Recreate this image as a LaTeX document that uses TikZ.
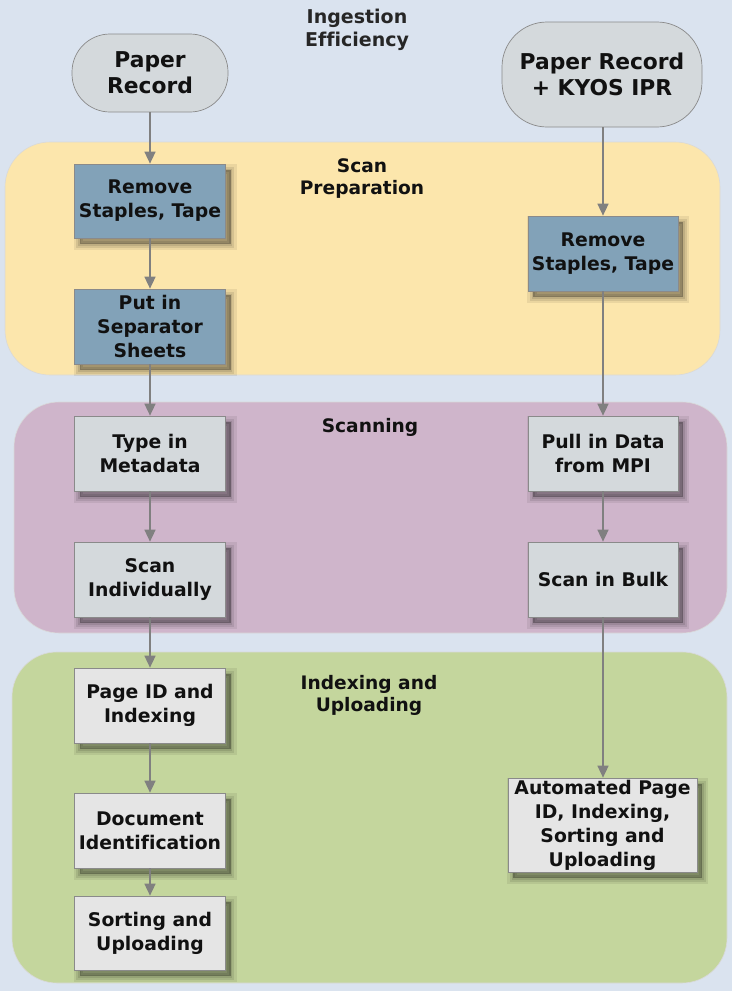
\documentclass[tikz,border=0pt]{standalone}
\usepackage{fontspec}
\setmainfont[Ligatures=NoCommon]{DejaVu Sans}
\usetikzlibrary{arrows.meta,shadows}
\definecolor{bg}{HTML}{DAE3EF}
\definecolor{laneA}{HTML}{FCE6AC}
\definecolor{laneB}{HTML}{CFB5CB}
\definecolor{laneC}{HTML}{C4D69D}
\definecolor{blueBox}{HTML}{82A2B8}
\definecolor{grayBox}{HTML}{D4D9DC}
\definecolor{lightBox}{HTML}{E5E5E5}
\definecolor{edgeGray}{HTML}{8A8A8A}
\definecolor{arrowGray}{HTML}{808080}
\definecolor{txt}{HTML}{111111}
\tikzset{
  lane/.style={rounded corners=45pt, draw=black!15, line width=0.6pt},
  lanetitle/.style={font=\bfseries\fontsize{18.6}{22}\selectfont, text=txt, align=center, inner sep=0pt},
  startnode/.style={draw=edgeGray, line width=0.7pt, fill=grayBox, rounded corners=38pt, align=center,
     font=\bfseries\fontsize{21.8}{26}\selectfont, text=txt, inner sep=0pt},
  softshadow/.style={
     general shadow={draw=black, fill=none, draw opacity=0.07, line width=12pt, rounded corners=3pt, shadow xshift=5pt, shadow yshift=-6pt},
     general shadow={draw=black, fill=none, draw opacity=0.09, line width=7pt, rounded corners=2pt, shadow xshift=5pt, shadow yshift=-6pt},
     general shadow={draw=black, fill=none, draw opacity=0.10, line width=3pt, shadow xshift=5pt, shadow yshift=-6pt},
     general shadow={fill=black, fill opacity=0.30, draw=none, shadow xshift=5pt, shadow yshift=-6pt}},
  box/.style={draw=edgeGray, line width=0.7pt, align=center, inner sep=0pt,
     font=\bfseries\fontsize{18.8}{24}\selectfont, text=txt,
     minimum width=151pt, minimum height=75pt, softshadow},
  bluebox/.style={box, fill=blueBox},
  graybox/.style={box, fill=grayBox},
  lightbox/.style={box, fill=lightBox},
  flow/.style={draw=arrowGray, line width=1.5pt, -{Triangle[width=11pt,length=12pt]}}
}
\begin{document}
\begin{tikzpicture}[x=1pt,y=-1pt]
\fill[bg] (0,0) rectangle (732,991);
\useasboundingbox (0,0) rectangle (732,991);

% lanes
\draw[lane, fill=laneA] (5,142) rectangle (720,375);
\draw[lane, fill=laneB] (14,402) rectangle (727,633);
\draw[lane, fill=laneC] (12,652) rectangle (727,983);

% titles
\node[lanetitle, font=\bfseries\fontsize{19}{23}\selectfont, text=black!85] (title) at (357,30) {Ingestion\\Efficiency};
\node[lanetitle] (t1) at (362,179) {Scan\\Preparation};
\node[lanetitle] (t2) at (370,427) {Scanning};
\node[lanetitle] (t3) at (369,695) {Indexing and\\Uploading};

% start nodes
\node[startnode, minimum width=156pt, minimum height=78pt] (pr1) at (150,73) {Paper\\Record};
\node[startnode, minimum width=200pt, minimum height=105pt, rounded corners=45pt] (pr2) at (602,74.5) {Paper Record\\+ KYOS IPR};

% left column
\node[bluebox, minimum height=74pt] (rs1) at (150,201) {Remove\\Staples, Tape};
\node[bluebox] (sep) at (150,326.5) {Put in\\Separator\\Sheets};
\node[graybox] (meta) at (150,453.5) {Type in\\Metadata};
\node[graybox] (scanI) at (150,579.5) {Scan\\Individually};
\node[lightbox] (page) at (150,705.5) {Page ID and\\Indexing};
\node[lightbox] (doc) at (150,830.5) {Document\\Identification};
\node[lightbox, minimum height=74pt] (sort) at (150,933) {Sorting and\\Uploading};

% right column
\node[bluebox, minimum width=150pt] (rs2) at (603,253.5) {Remove\\Staples, Tape};
\node[graybox, minimum width=150pt] (pull) at (603,453.5) {Pull in Data\\from MPI};
\node[graybox, minimum width=150pt] (bulk) at (603,579.5) {Scan in Bulk};
\node[lightbox, minimum width=189pt, minimum height=94pt] (auto) at (602.5,825) {Automated Page\\ID, Indexing,\\Sorting and\\Uploading};

% connectors
\draw[flow] (pr1.south) -- (rs1.north);
\draw[flow] (rs1.south) -- (sep.north);
\draw[flow] (sep.south) -- (meta.north);
\draw[flow] (meta.south) -- (scanI.north);
\draw[flow] (scanI.south) -- (page.north);
\draw[flow] (page.south) -- (doc.north);
\draw[flow] (doc.south) -- (sort.north);

\draw[flow] (pr2.south -| rs2.north) -- (rs2.north);
\draw[flow] (rs2.south) -- (pull.north);
\draw[flow] (pull.south) -- (bulk.north);
\draw[flow] (bulk.south) -- (bulk.south |- auto.north);
\end{tikzpicture}
\end{document}
